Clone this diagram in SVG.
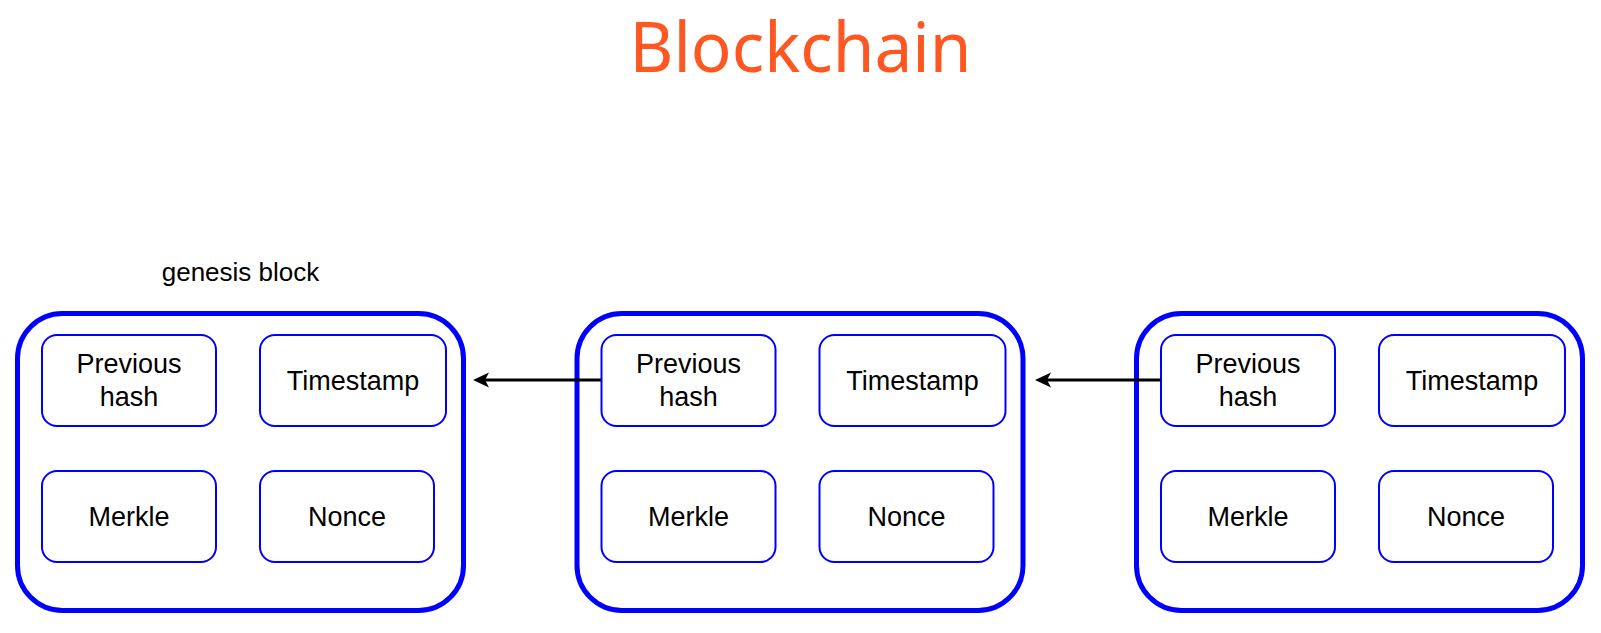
<svg xmlns="http://www.w3.org/2000/svg" width="1601" height="633" viewBox="0 0 1601 633">
  <style>
    .outer { fill: #FFFFFF; stroke: #0000FF; stroke-width: 5; }
    .inner { fill: #FFFFFF; stroke: #0000FF; stroke-width: 2; }
    .lbl { font-family: "Liberation Sans", Arial, sans-serif; font-size: 27px; fill: #000000; text-anchor: middle; }
    .cap { font-family: "Liberation Sans", Arial, sans-serif; font-size: 26px; fill: #000000; text-anchor: middle; }
    .title { font-family: "Noto Sans", "Open Sans", sans-serif; font-size: 70px; fill: #FF5722; text-anchor: middle; }
    .conn { stroke: #000000; stroke-width: 3; fill: none; }
    .head { fill: #000000; }
  </style>
  <rect x="0" y="0" width="1601" height="633" fill="#FFFFFF"/>

  <g id="title">
    <text class="title" x="800.5" y="72" textLength="342" lengthAdjust="spacingAndGlyphs">Blockchain</text>
  </g>

  <g id="genesis-label">
    <text class="cap" x="240.5" y="281">genesis block</text>
  </g>

  <g id="block1" transform="translate(17.5,313.5)">
    <rect class="outer" x="0" y="0" width="446" height="297" rx="45" ry="45"/>
    <g id="block1-prevhash">
      <rect class="inner" x="24.5" y="21.5" width="174" height="91" rx="15" ry="15"/>
      <text class="lbl" x="111.5" y="59.5">Previous</text>
      <text class="lbl" x="111.5" y="92">hash</text>
    </g>
    <g id="block1-timestamp">
      <rect class="inner" x="242.5" y="21.5" width="186" height="91" rx="15" ry="15"/>
      <text class="lbl" x="335.5" y="76">Timestamp</text>
    </g>
    <g id="block1-merkle">
      <rect class="inner" x="24.5" y="157.5" width="174" height="91" rx="15" ry="15"/>
      <text class="lbl" x="111.5" y="212.5">Merkle</text>
    </g>
    <g id="block1-nonce">
      <rect class="inner" x="242.5" y="157.5" width="174" height="91" rx="15" ry="15"/>
      <text class="lbl" x="329.5" y="212.5">Nonce</text>
    </g>
  </g>

  <g id="block2" transform="translate(577,313.5)">
    <rect class="outer" x="0" y="0" width="446" height="297" rx="45" ry="45"/>
    <g id="block2-prevhash">
      <rect class="inner" x="24.5" y="21.5" width="174" height="91" rx="15" ry="15"/>
      <text class="lbl" x="111.5" y="59.5">Previous</text>
      <text class="lbl" x="111.5" y="92">hash</text>
    </g>
    <g id="block2-timestamp">
      <rect class="inner" x="242.5" y="21.5" width="186" height="91" rx="15" ry="15"/>
      <text class="lbl" x="335.5" y="76">Timestamp</text>
    </g>
    <g id="block2-merkle">
      <rect class="inner" x="24.5" y="157.5" width="174" height="91" rx="15" ry="15"/>
      <text class="lbl" x="111.5" y="212.5">Merkle</text>
    </g>
    <g id="block2-nonce">
      <rect class="inner" x="242.5" y="157.5" width="174" height="91" rx="15" ry="15"/>
      <text class="lbl" x="329.5" y="212.5">Nonce</text>
    </g>
  </g>

  <g id="block3" transform="translate(1136.5,313.5)">
    <rect class="outer" x="0" y="0" width="446" height="297" rx="45" ry="45"/>
    <g id="block3-prevhash">
      <rect class="inner" x="24.5" y="21.5" width="174" height="91" rx="15" ry="15"/>
      <text class="lbl" x="111.5" y="59.5">Previous</text>
      <text class="lbl" x="111.5" y="92">hash</text>
    </g>
    <g id="block3-timestamp">
      <rect class="inner" x="242.5" y="21.5" width="186" height="91" rx="15" ry="15"/>
      <text class="lbl" x="335.5" y="76">Timestamp</text>
    </g>
    <g id="block3-merkle">
      <rect class="inner" x="24.5" y="157.5" width="174" height="91" rx="15" ry="15"/>
      <text class="lbl" x="111.5" y="212.5">Merkle</text>
    </g>
    <g id="block3-nonce">
      <rect class="inner" x="242.5" y="157.5" width="174" height="91" rx="15" ry="15"/>
      <text class="lbl" x="329.5" y="212.5">Nonce</text>
    </g>
  </g>

  <g id="connectors">
    <line class="conn" x1="601" y1="380" x2="484" y2="380"/>
    <path class="head" d="M473,380 L489,372.5 L485,380 L489,387.5 Z"/>
    <line class="conn" x1="1160.5" y1="380" x2="1046" y2="380"/>
    <path class="head" d="M1035,380 L1051,372.5 L1047,380 L1051,387.5 Z"/>
  </g>
</svg>
